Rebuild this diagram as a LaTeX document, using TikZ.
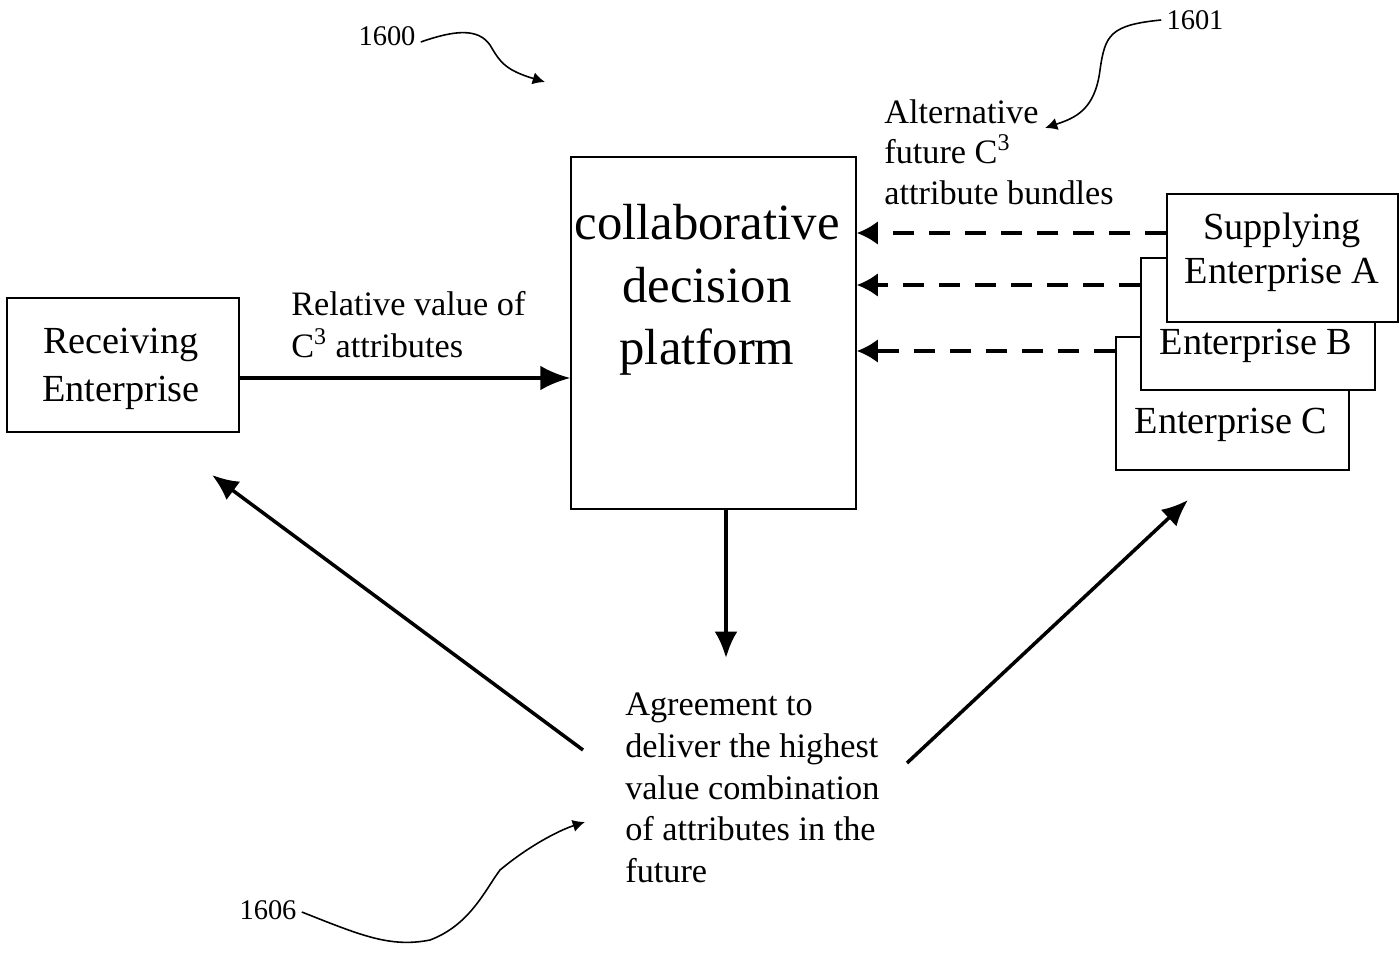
\documentclass[tikz,border=0pt]{standalone}
\usepackage{fontspec}
\setmainfont{Liberation Serif}
\usetikzlibrary{arrows.meta,calc}
\begin{document}
\begin{tikzpicture}[x=0.02cm,y=-0.02cm,
  box/.style={draw=black,line width=0.8pt,fill=white,inner sep=0pt},
  txt/.style={inner sep=0pt,font=\fontsize{19.5}{23.8}\selectfont},
  bigtxt/.style={inner sep=0pt,align=center,font=\fontsize{21.8}{27.2}\selectfont},
  numtxt/.style={inner sep=0pt,font=\fontsize{16.2}{19}\selectfont},
  mainarrow/.style={line width=2pt,-{Latex[length=17pt,width=14pt]}},
  dasharrow/.style={line width=2pt,dash pattern=on 12pt off 8.5pt,-{Latex[length=12pt,width=13.5pt]}},
  refarrow/.style={line width=0.9pt,-{Latex[length=7pt,width=7pt]}}]
\useasboundingbox (0,0) rectangle (1399,956);
% boxes
\node[box,minimum width=232*0.02cm,minimum height=134*0.02cm] (recv) at (123,365) {};
\node[bigtxt] (recvt) at (121,369) {Receiving\\Enterprise};
\node[box,minimum width=285*0.02cm,minimum height=352*0.02cm] (plat) at (713.5,333) {};
\node[inner sep=0pt,align=center,font=\fontsize{28.9}{35.6}\selectfont] (platt) at (707,290) {collaborative\\decision\\platform};
\node[box,minimum width=233*0.02cm,minimum height=133*0.02cm] (entC) at (1232.5,403.5) {};
\node[box,minimum width=234*0.02cm,minimum height=132*0.02cm] (entB) at (1258,324) {};
\node[box,minimum width=231*0.02cm,minimum height=128*0.02cm] (entA) at (1282.5,258) {};
\node[bigtxt,font=\fontsize{21.8}{25}\selectfont] (entAt) at (1282,252) {Supplying\\Enterprise A};
\node[bigtxt] (entBt) at (1256,346) {Enterprise B};
\node[bigtxt] (entCt) at (1231,425) {Enterprise C};
% labels
\node[txt,anchor=west,align=left] (rel) at (291,324.5) {Relative value of\\C\textsuperscript{3} attributes};
\node[txt,anchor=west,align=left,font=\fontsize{19.5}{23}\selectfont] (alt) at (884,152) {Alternative\\future C\textsuperscript{3}\\attribute bundles};
\node[txt,anchor=west,align=left] (agree) at (625,788) {Agreement to\\deliver the highest\\value combination\\of attributes in the\\future};
\node[numtxt] (n1600) at (387,36) {1600};
\node[numtxt] (n1601) at (1195,20) {1601};
\node[numtxt] (n1606) at (268,910) {1606};
% coordinates
\coordinate (r1) at (recv.east |- 0,378);
\coordinate (p1) at (plat.west |- 0,378);
\coordinate (a1) at (entA.west |- 0,233);
\coordinate (b1) at (entB.west |- 0,285);
\coordinate (c1) at (entC.west |- 0,351);
\coordinate (pa) at (plat.east |- 0,233);
\coordinate (pb) at (plat.east |- 0,285);
\coordinate (pc) at (plat.east |- 0,351);
\coordinate (pd) at (plat.south -| 726,0);
\coordinate (ag) at (726,658);
\coordinate (agl) at (583,750);
\coordinate (agr) at (907,763);
\coordinate (rt) at (212,475);
\coordinate (st) at (1188,500);
% connectors
\draw[mainarrow] (r1) -- (p1);
\draw[dasharrow] (a1) -- (pa);
\draw[dasharrow] (b1) -- (pb);
\draw[dasharrow] (c1) -- (pc);
\draw[mainarrow,-{Latex[length=15pt,width=13pt]}] (pd) -- (ag);
\draw[mainarrow,-{Latex[length=15pt,width=13pt]}] (agl) -- (rt);
\draw[mainarrow,-{Latex[length=15pt,width=13pt]}] (agr) -- (st);
% reference arrows
\draw[refarrow] (n1600.east) ++(5,6) .. controls (455,30) and (478,28) .. (490,45) .. controls (500,62) and (505,70) .. (545,82);
\draw[refarrow] (n1601.west) ++(-5,0) .. controls (1110,25) and (1105,35) .. (1100,70) .. controls (1095,110) and (1075,118) .. (1045,128);
\draw[refarrow] (n1606.east) ++(5,2) .. controls (360,935) and (390,948) .. (430,940) .. controls (470,925) and (485,890) .. (500,870) .. controls (530,845) and (560,830) .. (585,822);
\end{tikzpicture}
\end{document}
